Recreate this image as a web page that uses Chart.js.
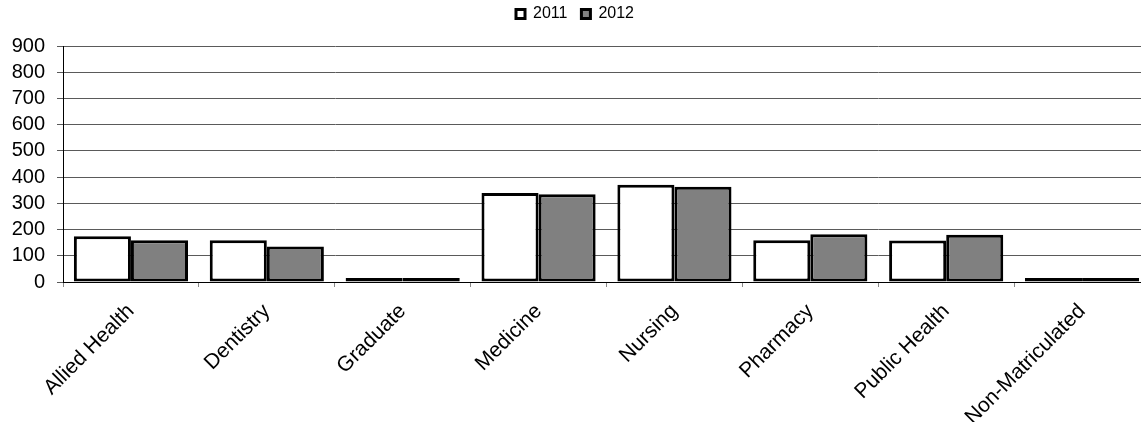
<!DOCTYPE html>
<html>
<head>
<meta charset="utf-8">
<script src="https://cdn.jsdelivr.net/npm/chart.js@4/dist/chart.umd.min.js"></script>
<style>
  html, body { margin: 0; padding: 0; background: #fff; overflow: hidden; }
  #wrap { width: 1150px; height: 422px; }
</style>
</head>
<body>
<div id="wrap"><canvas id="chart" width="1150" height="422"></canvas></div>
<script>
// ─── Data ──────────────────────────────────────────────
var categories = ['Allied Health', 'Dentistry', 'Graduate', 'Medicine',
  'Nursing', 'Pharmacy', 'Public Health', 'Non-Matriculated'];
var seriesNames = ['2011', '2012'];
var values2011 = [174, 159, 5, 339, 371, 159, 158, 6];
var values2012 = [159, 135, 4, 335, 363, 182, 180, 6];
var yTicks = [0, 100, 200, 300, 400, 500, 600, 700, 800, 900];

// ─── Chart ─────────────────────────────────────────────
var font = 'Liberation Sans, Arial, sans-serif';

// fix legend height so the plot starts where the reference does
var legendHeight = {
  id: 'legendHeight',
  beforeInit: function (chart) {
    var origFit = chart.legend.fit;
    chart.legend.fit = function () {
      origFit.bind(chart.legend)();
      this.height = 54;
    };
  }
};

new Chart(document.getElementById('chart'), {
  type: 'bar',
  data: {
    labels: categories,
    datasets: [
      { label: seriesNames[0], data: values2011, backgroundColor: '#ffffff' },
      { label: seriesNames[1], data: values2012, backgroundColor: '#808080' }
    ]
  },
  options: {
    responsive: false,
    animation: false,
    layout: { padding: { top: -8 } },
    datasets: {
      bar: {
        borderColor: '#000000',
        borderWidth: 3,
        borderSkipped: false,
        categoryPercentage: 0.84,
        barPercentage: 1.0,
        minBarLength: 4
      }
    },
    plugins: {
      legend: {
        position: 'top',
        labels: {
          boxWidth: 9,
          boxHeight: 9,
          padding: 14,
          color: '#000',
          font: { family: font, size: 16 }
        }
      },
      tooltip: { enabled: false }
    },
    scales: {
      x: {
        grid: {
          drawOnChartArea: false,
          drawTicks: true,
          tickLength: 5,
          color: '#888'
        },
        border: { color: '#000', width: 1 },
        ticks: {
          maxRotation: 45,
          minRotation: 45,
          padding: 12,
          color: '#000',
          font: { family: font, size: 21 }
        },
        afterFit: function (scale) { scale.height = 140; }
      },
      y: {
        min: 0,
        max: 900,
        afterBuildTicks: function (scale) {
          scale.ticks = yTicks.map(function (v) { return { value: v }; });
        },
        grid: {
          color: '#5a5a5a',
          lineWidth: 1,
          tickLength: 6
        },
        border: { color: '#000', width: 1 },
        ticks: {
          autoSkip: false,
          padding: 12,
          color: '#000',
          font: { family: font, size: 20 }
        },
        afterFit: function (scale) { scale.width = 63; }
      }
    }
  },
  plugins: [legendHeight]
});
</script>
</body>
</html>
